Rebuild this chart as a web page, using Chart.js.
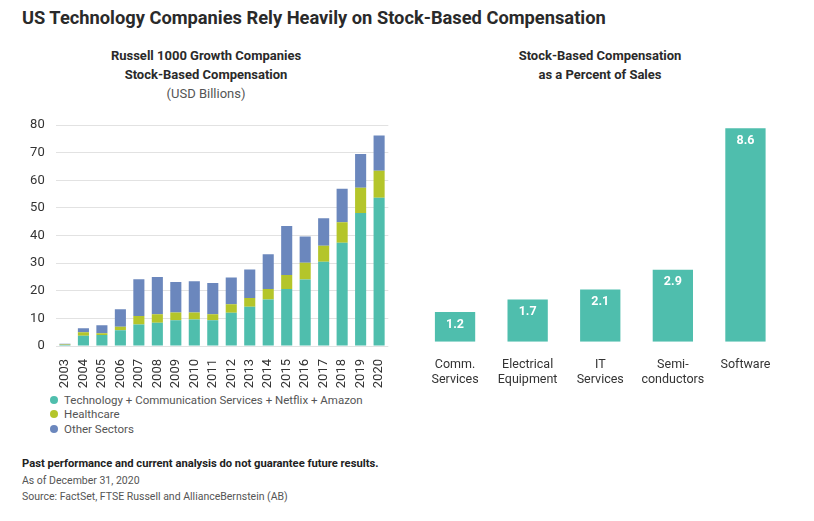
<!DOCTYPE html>
<html>
<head>
<meta charset="utf-8">
<script src="https://cdn.jsdelivr.net/npm/chart.js@4"></script>
<style>
  body { margin: 0; background: #fff; }
  #page { position: relative; width: 814px; height: 521px; overflow: hidden; font-family: Roboto, "Noto Sans", sans-serif; color: #333; }
  .txt { position: absolute; white-space: nowrap; }
  .ctr { text-align: center; }
  #legend { position: absolute; left: 50px; top: 393px; font-size: 11.5px; color: #555; line-height: 14.3px; }
  #legend span.dot { display: inline-block; width: 8px; height: 8px; border-radius: 50%; margin-right: 6px; vertical-align: 0px; }
</style>
</head>
<body>
<div id="page">
  <div class="txt" style="left:22px; top:6px; font-size:18.3px; font-weight:bold; color:#2a2a2a; line-height:24px;">US Technology Companies Rely Heavily on Stock-Based Compensation</div>

  <div class="txt ctr" style="left:106px; width:200px; top:46px; font-size:13px; font-weight:bold; color:#2a2a2a; line-height:19px;">Russell 1000 Growth Companies<br>Stock-Based Compensation<br><span style="font-weight:normal; color:#555;">(USD Billions)</span></div>

  <div class="txt ctr" style="left:500px; width:200px; top:46px; font-size:13px; font-weight:bold; color:#2a2a2a; line-height:19px;">Stock-Based Compensation<br>as a Percent of Sales</div>

  <canvas id="myChart1" style="position:absolute; left:0; top:100px;"></canvas>
  <canvas id="myChart2" style="position:absolute; left:400px; top:100px;"></canvas>
  <div id="legend"></div>

  <div class="txt" style="left:22px; top:456px; font-size:10.5px; line-height:16.5px; color:#555;"><b style="color:#222; font-size:11.2px;">Past performance and current analysis do not guarantee future results.</b><br>As of December 31, 2020<br>Source: FactSet, FTSE Russell and AllianceBernstein (AB)</div>
</div>

<script>
// --------------------------------- DATA ---------------------------
var years = ['2003', '2004', '2005', '2006', '2007', '2008', '2009', '2010', '2011',
             '2012', '2013', '2014', '2015', '2016', '2017', '2018', '2019', '2020'];
var techValues   = [0.4, 3.7, 4.0, 5.7, 7.8, 8.4, 9.3, 9.6, 9.3, 12.0, 14.2, 16.8, 20.6, 24.1, 30.5, 37.4, 48.1, 53.7];
var healthValues = [0.1, 1.3, 0.6, 1.3, 3.1, 3.1, 2.8, 2.5, 2.2, 3.1, 3.2, 3.8, 5.1, 6.0, 5.8, 7.4, 9.2, 9.7];
var otherValues  = [0.3, 1.4, 2.9, 6.3, 13.3, 13.5, 11.1, 11.3, 11.3, 9.7, 10.3, 12.6, 17.7, 9.5, 9.9, 12.1, 12.2, 12.8];
var seriesNames  = ['Technology + Communication Services + Netflix + Amazon', 'Healthcare', 'Other Sectors'];
var seriesColors = ['#4fbead', '#b4c52a', '#6b87bd'];
var yTicks = [0, 10, 20, 30, 40, 50, 60, 70, 80];

var industries = [['Comm.', 'Services'], ['Electrical', 'Equipment'], ['IT', 'Services'], ['Semi-', 'conductors'], 'Software'];
var pctOfSales = [1.2, 1.7, 2.1, 2.9, 8.6];

// ---------------------------------- GRAFICO 1 --------------------------
var c1 = document.getElementById('myChart1');
c1.width = 400; c1.height = 290;

var data1 = {
    labels: years,
    datasets: [techValues, healthValues, otherValues].map(function (vals, i) {
        return {
            label: seriesNames[i],
            data: vals,
            backgroundColor: seriesColors[i],
            barPercentage: 0.6,
            categoryPercentage: 1
        };
    })
};

var chart1 = new Chart(c1, {
    type: 'bar',
    data: data1,
    options: {
        responsive: false,
        animation: false,
        layout: { padding: { top: 25, right: 10.7, left: 0, bottom: 0 } },
        plugins: { legend: { display: false }, tooltip: { enabled: false } },
        scales: {
            x: {
                stacked: true,
                grid: { display: false },
                border: { display: false },
                ticks: { autoSkip: false, minRotation: 90, maxRotation: 90, padding: 5, color: '#333', font: { family: 'Roboto', size: 13 } },
                afterFit: function (scale) { scale.height = 44; }
            },
            y: {
                stacked: true,
                min: 0, max: 80,
                afterBuildTicks: function (scale) { scale.ticks = yTicks.map(function (v) { return { value: v }; }); },
                grid: { color: '#e2e2e2', drawTicks: false },
                border: { display: false },
                ticks: { padding: 11, color: '#333', font: { family: 'Roboto', size: 13 } },
                afterFit: function (scale) { scale.width = 55.7; }
            }
        }
    }
});

// html legend built from the datasets
var legend = document.getElementById('legend');
data1.datasets.forEach(function (ds) {
    var row = document.createElement('div');
    row.innerHTML = '<span class="dot" style="background:' + ds.backgroundColor + '"></span>' + ds.label;
    legend.appendChild(row);
});

// ---------------------------------- GRAFICO 2 --------------------------
var c2 = document.getElementById('myChart2');
c2.width = 414; c2.height = 290;

var valueLabels = {
    id: 'valueLabels',
    afterDatasetsDraw: function (chart) {
        var ctx = chart.ctx;
        var meta = chart.getDatasetMeta(0);
        ctx.save();
        ctx.fillStyle = '#fff';
        ctx.font = 'bold 12.5px Roboto';
        ctx.textAlign = 'center';
        ctx.textBaseline = 'middle';
        meta.data.forEach(function (bar, i) {
            ctx.fillText(pctOfSales[i].toFixed(1), bar.x, bar.y + 12.5);
        });
        ctx.restore();
    }
};

var chart2 = new Chart(c2, {
    type: 'bar',
    data: {
        labels: industries,
        datasets: [{
            data: pctOfSales,
            backgroundColor: '#4fbead',
            barPercentage: 0.555,
            categoryPercentage: 1
        }]
    },
    options: {
        responsive: false,
        animation: false,
        layout: { padding: { top: 18.4, left: 18.75, right: 32.25, bottom: 0 } },
        plugins: { legend: { display: false }, tooltip: { enabled: false } },
        scales: {
            x: {
                grid: { display: false },
                border: { display: false },
                ticks: { padding: 8, color: '#333', font: { family: 'Roboto', size: 12.5 } },
                afterFit: function (scale) { scale.height = 48.3; }
            },
            y: {
                display: false,
                min: 0, max: 9
            }
        }
    },
    plugins: [valueLabels]
});
</script>
</body>
</html>
